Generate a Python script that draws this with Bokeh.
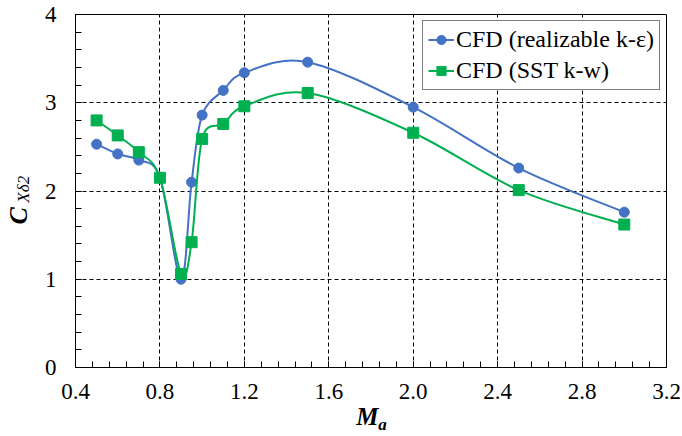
import math
from bokeh.plotting import figure
from bokeh.models import (SingleIntervalTicker, FixedTicker, PrintfTickFormatter, Legend,
                          LegendItem, Range1d, ColumnDataSource, LinearAxis)
from bokeh.embed import file_html
from bokeh.resources import INLINE

# ---- data ----
mach = [0.5, 0.6, 0.7, 0.8, 0.9, 0.95, 1.0, 1.1, 1.2, 1.5, 2.0, 2.5, 3.0]
cfd_realizable = [2.53, 2.42, 2.35, 2.15, 1.00, 2.10, 2.86, 3.14, 3.34, 3.46, 2.95, 2.26, 1.76]
cfd_sst = [2.80, 2.63, 2.44, 2.15, 1.06, 1.42, 2.59, 2.76, 2.96, 3.11, 2.66, 2.01, 1.62]
series_names = ["CFD (realizable k-\u03b5)", "CFD (SST k-w)"]
y_title_main, y_title_sub = "C", "X\u03b42"
x_title_main, x_title_sub = "M", "a"

BLUE = "#4472C4"
GREEN = "#00B050"
FONT = "Liberation Serif"


def smooth_segments(xs, ys):
    """Bezier control points (Catmull-Rom style smoothing, like a spreadsheet 'smoothed line')."""
    n = len(xs)
    d = dict(x0=[], y0=[], x1=[], y1=[], cx0=[], cy0=[], cx1=[], cy1=[])
    for i in range(n - 1):
        xm = xs[i - 1] if i > 0 else xs[i]
        ym = ys[i - 1] if i > 0 else ys[i]
        xp = xs[i + 2] if i + 2 < n else xs[i + 1]
        yp = ys[i + 2] if i + 2 < n else ys[i + 1]
        d["x0"].append(xs[i]); d["y0"].append(ys[i])
        d["x1"].append(xs[i + 1]); d["y1"].append(ys[i + 1])
        d["cx0"].append(xs[i] + (xs[i + 1] - xm) / 6.0)
        d["cy0"].append(ys[i] + (ys[i + 1] - ym) / 6.0)
        d["cx1"].append(xs[i + 1] - (xp - xs[i]) / 6.0)
        d["cy1"].append(ys[i + 1] - (yp - ys[i]) / 6.0)
    return ColumnDataSource(d)


p = figure(width=682, height=436, output_backend="svg", toolbar_location=None,
           x_range=Range1d(0.4, 3.2), y_range=Range1d(0, 4),
           min_border_left=75, min_border_right=16, min_border_top=14, min_border_bottom=68)
p.outline_line_color = "black"
p.outline_line_width = 1
p.background_fill_color = "white"
p.border_fill_color = "white"

# axes
p.xaxis.ticker = SingleIntervalTicker(interval=0.4, num_minor_ticks=5)
p.yaxis.ticker = SingleIntervalTicker(interval=1, num_minor_ticks=5)
p.xaxis.formatter = PrintfTickFormatter(format="%.1f")
p.yaxis.formatter = PrintfTickFormatter(format="%d")
for ax in (p.xaxis, p.yaxis):
    ax.axis_line_color = "black"
    ax.major_tick_in = 6
    ax.major_tick_out = 0
    ax.minor_tick_in = 6
    ax.minor_tick_out = 0
    ax.major_tick_line_color = "black"
    ax.minor_tick_line_color = "black"
    ax.major_label_text_font = FONT
    ax.major_label_text_font_size = "23px"
    ax.major_label_text_color = "black"
p.xaxis.major_label_standoff = 16
p.yaxis.major_label_standoff = 19


def title_axis(side, pos, text, size, style, standoff, vertical):
    ax = LinearAxis(ticker=FixedTicker(ticks=[pos], minor_ticks=[]),
                    major_label_overrides={pos: text})
    ax.axis_line_color = None
    ax.major_tick_line_color = None
    ax.minor_tick_line_color = None
    ax.major_tick_out = 0
    ax.minor_tick_out = 0
    ax.major_label_text_font = FONT
    ax.major_label_text_font_size = size
    ax.major_label_text_font_style = style
    ax.major_label_text_color = "black"
    ax.major_label_standoff = standoff
    if vertical:
        ax.major_label_orientation = "vertical"
    p.add_layout(ax, side)
    return ax


# y-axis title: C with subscript X-delta-2 (subscript closer to the axis)
title_axis("left", 2.02, y_title_sub, "17px", "italic", 8, True)
title_axis("left", 1.72, y_title_main, "26px", "bold italic", -22, True)
# x-axis title: M with subscript a
title_axis("below", 1.783, x_title_main, "25px", "bold italic", 1, False)
title_axis("below", 1.855, x_title_sub, "17px", "bold italic", -18, False)

# grid
for g in (p.xgrid, p.ygrid):
    g.grid_line_color = "black"
    g.grid_line_dash = "4 3"
    g.grid_line_width = 1
    g.grid_line_alpha = 1.0

# series
renderers = []
for ys, color, marker, size in ((cfd_realizable, BLUE, "circle", 10), (cfd_sst, GREEN, "square", 11)):
    src = smooth_segments(mach, ys)
    b = p.bezier(x0="x0", y0="y0", x1="x1", y1="y1", cx0="cx0", cy0="cy0",
                 cx1="cx1", cy1="cy1", source=src, line_color=color, line_width=2)
    s = p.scatter(mach, ys, marker=marker, size=size, fill_color=color, line_color=color)
    renderers.append((b, s))

legend = Legend(items=[LegendItem(label=series_names[0], renderers=list(renderers[0])),
                       LegendItem(label=series_names[1], renderers=list(renderers[1]))],
                location="top_right")
legend.margin = 6
legend.padding = 5
legend.spacing = 4
legend.glyph_width = 26
legend.glyph_height = 23
legend.label_height = 23
legend.label_standoff = 2
legend.label_text_font = FONT
legend.label_text_font_size = "24px"
legend.label_text_color = "black"
legend.border_line_color = "black"
legend.border_line_width = 1
legend.background_fill_color = "white"
legend.background_fill_alpha = 1.0
p.add_layout(legend, "center")

open("out.html", "w").write(file_html(p, INLINE))
